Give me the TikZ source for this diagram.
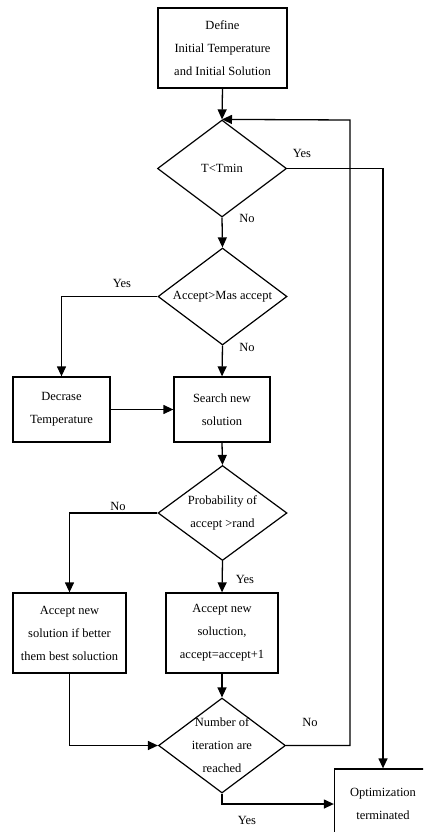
\documentclass[tikz,border=0pt]{standalone}
\usepackage{fontspec}
\setmainfont{Liberation Serif}
\usetikzlibrary{shapes.geometric,arrows.meta}
\begin{document}
\begin{tikzpicture}[x=1pt,y=-1pt,
  every node/.style={font=\fontsize{12.5}{23}\selectfont},
  box/.style={draw,line width=1.3pt,align=center,inner sep=0pt},
  dia/.style={draw,diamond,line width=1.2pt,inner sep=0pt},
  arr/.style={line width=1.3pt,-{Triangle[length=10pt,width=9pt]}},
  lbl/.style={inner sep=0pt}]
\clip (0,0) rectangle (423,832);
\fill[white] (0,0) rectangle (423,832);
\node[box,minimum width=129pt,minimum height=80pt] (def) at (222.5,48) {Define\\Initial Temperature\\and Initial Solution};
\node[dia,minimum width=129pt,minimum height=97pt,label={center:T<Tmin}] (T) at (222,168.5) {};
\node[dia,minimum width=129pt,minimum height=97pt,label={center:Accept>Mas accept}] (A) at (222.5,296.5) {};
\node[box,minimum width=97pt,minimum height=65pt] (dec) at (61.5,409.5) {Decrase\\Temperature};
\node[box,minimum width=96pt,minimum height=65pt] (sea) at (222,409.5) {Search new\\solution};
\node[dia,minimum width=129pt,minimum height=95pt,label={[align=center]center:Probability of\\accept >rand}] (P) at (222.5,513) {};
\node[box,minimum width=113pt,minimum height=80pt] (rej) at (69.5,633) {Accept new\\solution if better\\them best soluction};
\node[box,minimum width=112pt,minimum height=80pt] (acc) at (222,633) {Accept new\\soluction,\\accept=accept+1};
\node[dia,minimum width=127pt,minimum height=95pt,label={[align=center]center:Number of\\iteration are\\reached}] (I) at (222,745.5) {};
\node[box,minimum width=97pt,minimum height=70pt] (opt) at (383,804) {Optimization\\terminated};
\coordinate (lp) at (350,120);
\draw[arr] (def.south) -- (T.north);
\draw[arr] (I.east) -| (lp) -- (T.north);
\draw[arr] (T.east) -| (opt.north);
\draw[arr] (T.south) -- (A.north);
\draw[arr] (A.west) -| (dec.north);
\draw[arr] (A.south) -- (sea.north);
\draw[arr] (dec.east) -- (sea.west);
\draw[arr] (sea.south) -- (P.north);
\draw[arr] (P.west) -| (rej.north);
\draw[arr] (P.south) -- (acc.north);
\draw[arr] (rej.south) |- (I.west);
\draw[arr] (acc.south) -- (I.north);
\draw[arr] (I.south) |- (opt.west);
\node[lbl] (l1) at (302,153) {Yes};
\node[lbl] (l2) at (247,218) {No};
\node[lbl] (l3) at (122,283) {Yes};
\node[lbl] (l4) at (247,347) {No};
\node[lbl] (l5) at (118,506) {No};
\node[lbl] (l6) at (245,579) {Yes};
\node[lbl] (l7) at (310,722) {No};
\node[lbl] (l8) at (247,820) {Yes};
\end{tikzpicture}
\end{document}
